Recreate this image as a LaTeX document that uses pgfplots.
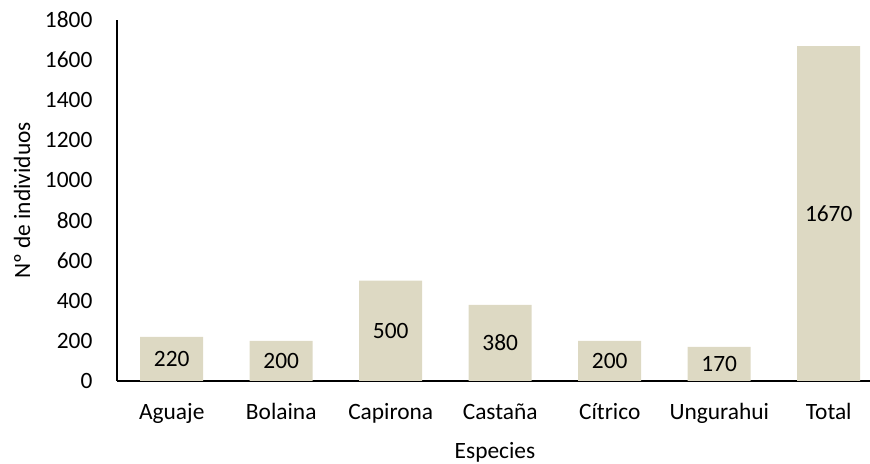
\documentclass[border=0pt]{standalone}
\usepackage{pgfplots}
\pgfplotsset{compat=1.18}
\usepackage{fontspec}
\setmainfont{Carlito}
\definecolor{barfill}{HTML}{DDD9C3}
\newcommand{\chartfont}{\fontsize{11.7}{14}\selectfont}
\begin{document}
\chartfont
\begin{tikzpicture}
\useasboundingbox (-58.5pt,-41.5pt) rectangle (376.5pt,190.5pt);
 \begin{axis}[
        at={(0,0)}, anchor=south west,
        scale only axis,
        width=376.5pt,
        height=180.5pt,
        ybar,
        bar width=31.5pt,
        ymin=0, ymax=1800,
        xmin=-0.5, xmax=6.377,
        ytick={0,200,...,1800},
        xtick=data,
        xticklabels={Aguaje,Bolaina,Capirona,Castaña,Cítrico,Ungurahui,Total},
        axis x line*=bottom,
        axis y line*=left,
        axis line style={line width=1pt, black},
        major tick length=0pt,
        /pgf/number format/assume math mode=true,
        /pgf/number format/1000 sep={},
        tick label style={font=\chartfont},
        yticklabel style={anchor=east, xshift=-8.2pt},
        xticklabel style={anchor=base, yshift=-19.5pt},
        ylabel={Nº de individuos},
        xlabel={Especies},
        label style={font=\chartfont},
        every axis y label/.style={at={(axis description cs:-0.126,0.5)}, rotate=90, anchor=center},
        every axis x label/.style={at={(axis description cs:0.502,-0.197)}, anchor=center},
        nodes near coords,
        visualization depends on={y \as \rawy},
        every node near coord/.append style={anchor=center, font=\chartfont, black,
          shift={(axis direction cs:0,-\rawy/2)}},
  ]
  \addplot [fill=barfill, draw=none] coordinates {
    (0,220) (1,200) (2,500) (3,380) (4,200) (5,170) (6,1670)
  };
\end{axis}
\end{tikzpicture}
\end{document}
